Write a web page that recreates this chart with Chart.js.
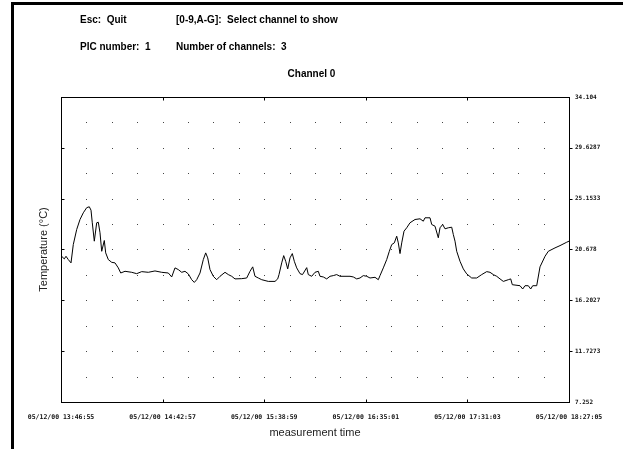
<!DOCTYPE html>
<html>
<head>
<meta charset="utf-8">
<script src="https://cdn.jsdelivr.net/npm/chart.js@4"></script>
<style>
  html, body { margin: 0; padding: 0; background: #fff; }
  #wrap { position: relative; width: 623px; height: 449px; overflow: hidden; }
  #frame { position: absolute; left: 11px; top: 2px; right: 0; bottom: 0; border-left: 3px solid #000; border-top: 3px solid #000; }
  .hdr { position: absolute; font: bold 10px "Liberation Sans", Arial, sans-serif; line-height: 12px; color: #000; white-space: nowrap; }
  canvas { position: absolute; left: 0; top: 0; }
</style>
</head>
<body>
<div id="wrap">
  <canvas id="chart" width="623" height="449"></canvas>
  <div id="frame"></div>
  <div class="hdr" style="left:80px; top:14px;">Esc:&nbsp; Quit</div>
  <div class="hdr" style="left:176px; top:14px;">[0-9,A-G]:&nbsp; Select channel to show</div>
  <div class="hdr" style="left:80px; top:41px;">PIC number:&nbsp; 1</div>
  <div class="hdr" style="left:176px; top:41px;">Number of channels:&nbsp; 3</div>
</div>
<script>
// minutes since 13:46:55
const timeMin = [
  0, 1.82, 2.76, 4.03, 5.52, 6.78, 8.66, 10.48, 12.30, 14.17,
  15.61, 16.55, 17.26, 18.37, 19.69, 20.57, 21.51, 22.45, 23.88, 24.65,
  26.09, 27.96, 29.78, 31.60, 32.93, 35.30, 38.99, 41.75, 44.51, 48.15,
  51.84, 55.54, 59.18, 61.05, 62.87, 64.69, 66.57, 68.39, 70.21, 72.08,
  73.52, 74.84, 76.66, 78.48, 79.80, 80.91, 82.18, 84.00, 85.87, 87.69,
  90.45, 92.27, 94.15, 95.96, 99.66, 102.42, 104.24, 105.73, 106.99, 108.81,
  110.69, 114.33, 118.03, 119.52, 120.23, 121.72, 122.82, 123.93, 125.03, 126.30,
  127.57, 128.67, 129.99, 131.81, 133.19, 135.51, 136.39, 138.27, 140.09, 141.91,
  142.84, 144.66, 146.54, 148.36, 150.18, 152.05, 153.87, 156.63, 159.39, 161.21,
  163.09, 164.90, 166.72, 168.60, 170.42, 173.18, 175.00, 175.94, 177.76, 179.63,
  181.07, 182.39, 183.82, 185.15, 186.03, 186.97, 187.91, 189.17, 190.66, 192.48,
  195.24, 198.00, 199.82, 200.75, 203.51, 204.45, 206.27, 208.09, 209.03, 210.51,
  211.78, 213.60, 215.48, 216.36, 217.30, 218.24, 220.06, 221.88, 223.75, 226.51,
  229.27, 232.03, 234.78, 236.60, 238.42, 240.30, 242.12, 243.94, 246.70, 248.02,
  248.90, 253.15, 254.63, 255.90, 257.72, 259.05, 260.15, 262.36, 264.18, 266.94,
  268.76, 272.45, 275.21, 278.91, 280.17
];
const tempC = [
  20.14, 19.85, 20.08, 19.79, 19.50, 21.11, 22.44, 23.32, 23.91, 24.36,
  24.44, 24.14, 23.03, 21.41, 23.03, 23.08, 22.15, 20.52, 21.47, 20.38,
  19.79, 19.55, 19.50, 19.06, 18.61, 18.76, 18.67, 18.55, 18.73, 18.67,
  18.79, 18.67, 18.61, 18.26, 19.06, 18.91, 18.67, 18.76, 18.53, 18.02,
  17.78, 18.02, 18.61, 19.79, 20.38, 19.94, 18.91, 18.32, 18.02, 18.32,
  18.67, 18.47, 18.32, 18.09, 18.11, 18.17, 18.76, 19.15, 18.32, 18.17,
  18.02, 17.87, 17.87, 18.09, 18.47, 19.50, 20.14, 19.64, 18.97, 19.94,
  20.32, 19.64, 19.06, 18.55, 18.47, 19.08, 18.47, 18.32, 18.67, 18.76,
  18.32, 18.26, 18.09, 18.32, 18.38, 18.47, 18.32, 18.32, 18.32, 18.26,
  18.09, 18.17, 18.38, 18.32, 18.17, 18.23, 18.02, 18.38, 19.06, 19.79,
  20.52, 21.11, 21.26, 21.85, 21.26, 20.32, 21.26, 22.29, 22.59, 23.03,
  23.32, 23.38, 23.17, 23.47, 23.47, 22.88, 22.73, 21.71, 22.59, 22.88,
  22.50, 22.59, 22.64, 22.00, 21.41, 20.52, 19.64, 18.97, 18.53, 18.17,
  18.17, 18.47, 18.73, 18.67, 18.47, 18.32, 18.09, 17.87, 18.02, 18.09,
  17.58, 17.49, 17.20, 17.49, 17.49, 17.20, 17.49, 17.49, 19.15, 20.08,
  20.52, 20.82, 21.02, 21.32, 21.41
];
const xTickValues = [0, 56.0333, 112.0667, 168.1, 224.1333, 280.1667];
const xTickLabels = ['05/12/00 13:46:55', '05/12/00 14:42:57', '05/12/00 15:38:59',
                     '05/12/00 16:35:01', '05/12/00 17:31:03', '05/12/00 18:27:05'];
const yTickValues = [7.252, 11.72733, 16.20267, 20.678, 25.15333, 29.62867, 34.104];
const yTickLabels = ['7.252', '11.7273', '16.2027', '20.678', '25.1533', '29.6287', '34.104'];

const X_MAX = xTickValues[xTickValues.length - 1];
const Y_MIN = yTickValues[0];
const Y_MAX = yTickValues[yTickValues.length - 1];

const points = timeMin.map((t, i) => ({ x: t, y: tempC[i] }));

// dotted grid, frame and inside tick marks
const framePlugin = {
  id: 'frame',
  beforeDatasetsDraw(chart) {
    const { ctx, scales } = chart;
    const xs = scales.x, ys = scales.yR;
    ctx.save();
    ctx.fillStyle = '#444';
    for (let i = 1; i < 20; i++) {
      const px = Math.round(xs.getPixelForValue(X_MAX * i / 20));
      for (let j = 1; j < 12; j++) {
        const py = Math.round(ys.getPixelForValue(Y_MIN + (Y_MAX - Y_MIN) * j / 12));
        ctx.fillRect(px, py, 1, 1);
      }
    }
    ctx.restore();
  },
  afterDatasetsDraw(chart) {
    const { ctx, chartArea: a, scales } = chart;
    const xs = scales.x, ys = scales.yR;
    ctx.save();
    ctx.strokeStyle = '#000';
    ctx.lineWidth = 1;
    const l = Math.round(a.left) + 0.5, r = Math.round(a.right) + 0.5;
    const t = Math.round(a.top) + 0.5, b = Math.round(a.bottom) + 0.5;
    ctx.strokeRect(l, t, r - l, b - t);
    ctx.beginPath();
    xTickValues.slice(1, -1).forEach(v => {
      const px = Math.round(xs.getPixelForValue(v)) + 0.5;
      ctx.moveTo(px, t); ctx.lineTo(px, t + 3);
      ctx.moveTo(px, b); ctx.lineTo(px, b - 3);
    });
    yTickValues.slice(1, -1).forEach(v => {
      const py = Math.round(ys.getPixelForValue(v)) + 0.5;
      ctx.moveTo(l, py); ctx.lineTo(l + 3, py);
      ctx.moveTo(r, py); ctx.lineTo(r + 3, py);
    });
    ctx.stroke();
    ctx.restore();
  }
};

const tickFont = { family: '"DejaVu Sans Mono", monospace', size: 6.5, weight: 'bold' };

new Chart(document.getElementById('chart'), {
  type: 'line',
  data: {
    datasets: [{
      data: points,
      xAxisID: 'x',
      yAxisID: 'yR',
      borderColor: '#000',
      borderWidth: 1,
      pointRadius: 0,
      tension: 0,
      fill: false
    }]
  },
  options: {
    responsive: false,
    animation: false,
    events: [],
    layout: { padding: 0 },
    plugins: {
      legend: { display: false },
      tooltip: { enabled: false },
      title: {
        display: true,
        text: 'Channel 0',
        color: '#000',
        font: { family: '"Liberation Sans", Arial, sans-serif', size: 10, weight: 'bold' },
        padding: { top: 68, bottom: 17 }
      }
    },
    scales: {
      x: {
        type: 'linear',
        position: 'bottom',
        min: 0,
        max: X_MAX,
        grid: { display: false, drawTicks: false },
        border: { display: false },
        afterBuildTicks: s => { s.ticks = xTickValues.map(v => ({ value: v })); },
        afterFit: s => { s.height = 47; },
        ticks: {
          autoSkip: false,
          maxRotation: 0,
          padding: 11,
          color: '#111',
          font: tickFont,
          callback: (v, i) => xTickLabels[i]
        },
        title: {
          display: true,
          text: 'measurement time',
          color: '#222',
          font: { family: '"Liberation Sans", Arial, sans-serif', size: 11 },
          padding: { top: 0, bottom: 9 }
        }
      },
      yL: {
        type: 'linear',
        position: 'left',
        min: Y_MIN,
        max: Y_MAX,
        grid: { display: false, drawTicks: false },
        border: { display: false },
        ticks: { display: false },
        afterFit: s => { s.width = 61; },
        title: {
          display: true,
          text: 'Temperature (°C)',
          color: '#222',
          font: { family: '"Liberation Sans", Arial, sans-serif', size: 11 },
          padding: { top: 37, bottom: 0 }
        }
      },
      yR: {
        type: 'linear',
        position: 'right',
        min: Y_MIN,
        max: Y_MAX,
        grid: { display: false, drawTicks: false },
        border: { display: false },
        afterBuildTicks: s => { s.ticks = yTickValues.map(v => ({ value: v })); },
        afterFit: s => { s.width = 54; },
        ticks: {
          autoSkip: false,
          padding: 6,
          color: '#111',
          font: { family: '"DejaVu Sans Mono", monospace', size: 6, weight: 'bold' },
          callback: (v, i) => yTickLabels[i]
        }
      }
    }
  },
  plugins: [framePlugin]
});
</script>
</body>
</html>
